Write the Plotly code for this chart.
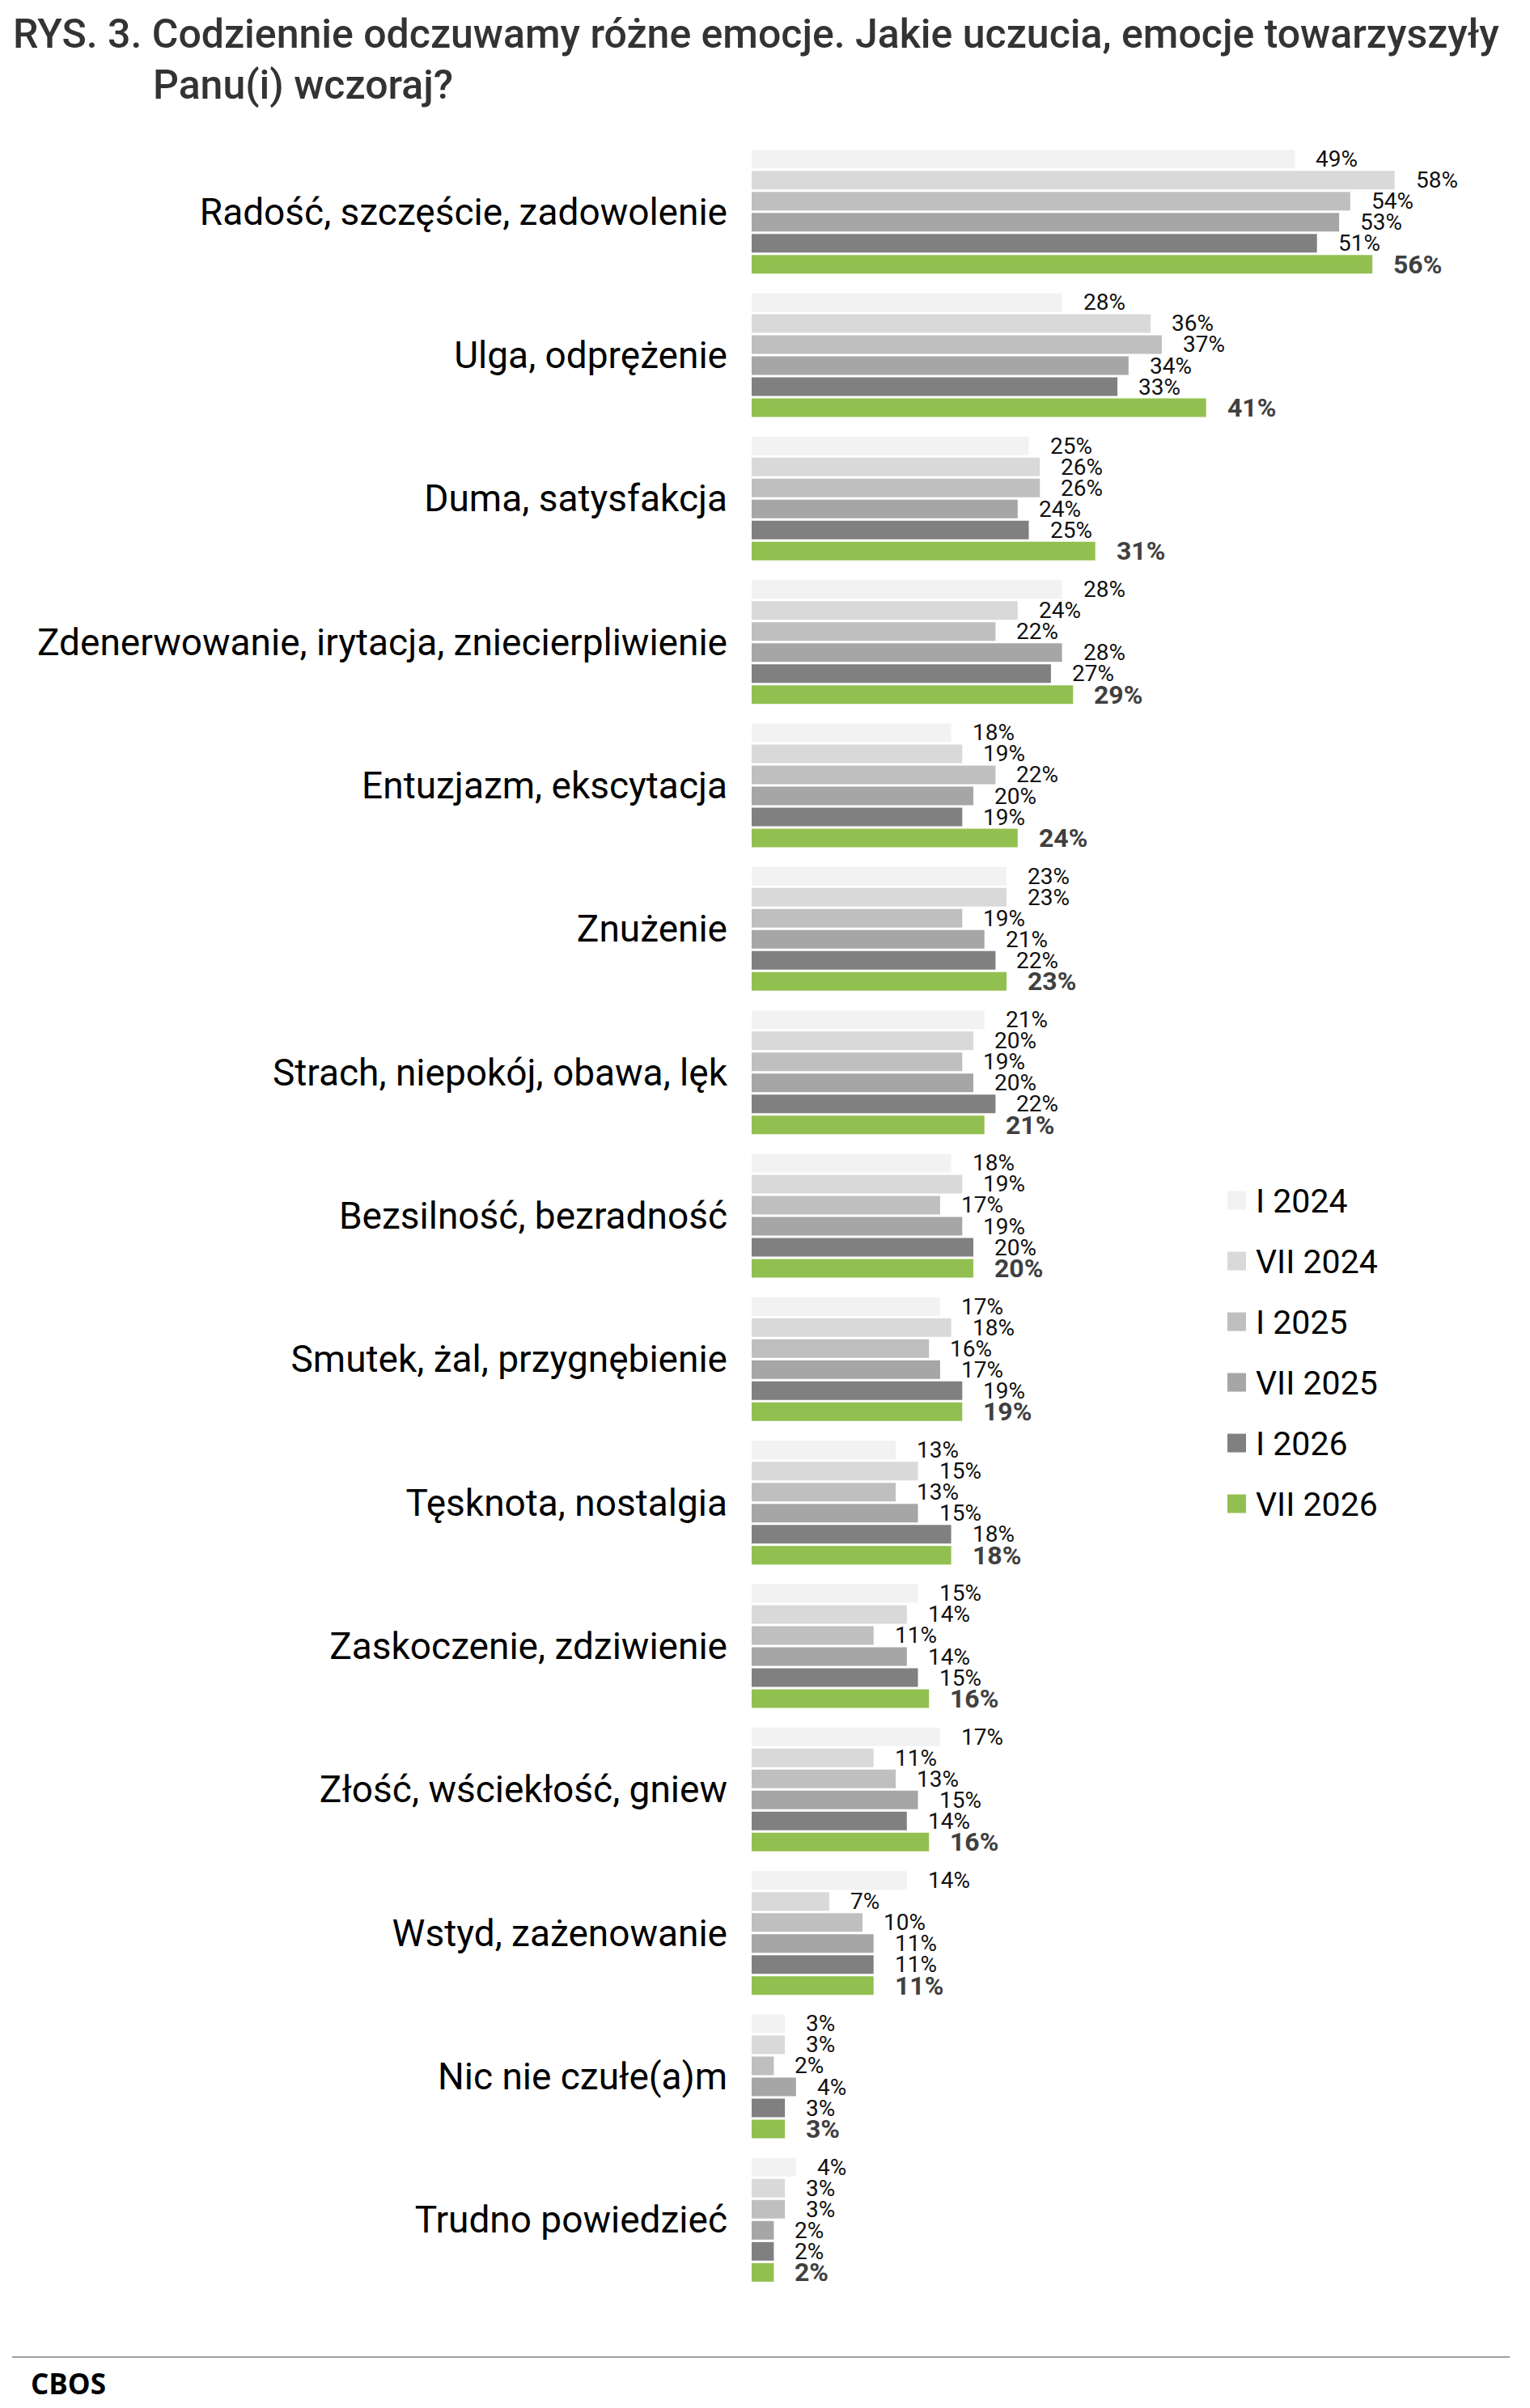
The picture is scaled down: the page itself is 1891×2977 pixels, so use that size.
import plotly.graph_objects as go

categories = [
    "Radość, szczęście, zadowolenie",
    "Ulga, odprężenie",
    "Duma, satysfakcja",
    "Zdenerwowanie, irytacja, zniecierpliwienie",
    "Entuzjazm, ekscytacja",
    "Znużenie",
    "Strach, niepokój, obawa, lęk",
    "Bezsilność, bezradność",
    "Smutek, żal, przygnębienie",
    "Tęsknota, nostalgia",
    "Zaskoczenie, zdziwienie",
    "Złość, wściekłość, gniew",
    "Wstyd, zażenowanie",
    "Nic nie czułe(a)m",
    "Trudno powiedzieć",
]

series_names = ["I 2024", "VII 2024", "I 2025", "VII 2025", "I 2026", "VII 2026"]

i_2024 = [49, 28, 25, 28, 18, 23, 21, 18, 17, 13, 15, 17, 14, 3, 4]
vii_2024 = [58, 36, 26, 24, 19, 23, 20, 19, 18, 15, 14, 11, 7, 3, 3]
i_2025 = [54, 37, 26, 22, 22, 19, 19, 17, 16, 13, 11, 13, 10, 2, 3]
vii_2025 = [53, 34, 24, 28, 20, 21, 20, 19, 17, 15, 14, 15, 11, 4, 2]
i_2026 = [51, 33, 25, 27, 19, 22, 22, 20, 19, 18, 15, 14, 11, 3, 2]
vii_2026 = [56, 41, 31, 29, 24, 23, 21, 20, 19, 18, 16, 16, 11, 3, 2]

series_values = [i_2024, vii_2024, i_2025, vii_2025, i_2026, vii_2026]
colors = ["#F2F2F2", "#D9D9D9", "#BFBFBF", "#A6A6A6", "#808080", "#92C050"]

title_line1 = "RYS. 3. Codziennie odczuwamy różne emocje. Jakie uczucia, emocje towarzyszyły"
title_line2 = "Panu(i) wczoraj?"
source_text = "CBOS"

# layout geometry (pixels)
W, H = 1891, 2977
L, R, T, B = 929, 0, 173, 144
PW, PH = W - L - R, H - T - B
BARGAP = 0.1203
BARGROUPGAP = 0.1154
PX_PER_PCT = 13.7


def px2x(px):
    return (px - L) / PW


def py2y(py):
    return (H - B - py) / PH


FONT = "Roboto"

fig = go.Figure()
for name, vals, col in zip(series_names, series_values, colors):
    fig.add_trace(go.Bar(
        y=categories, x=vals, name=name, orientation="h",
        marker=dict(color=col, line=dict(width=0)),
        showlegend=False, hoverinfo="x+name",
    ))

# data labels
cat_px = PH / len(categories)
slot_px = (1 - BARGAP) * cat_px / len(series_names)
annotations = []
n = len(series_names)
for j, (name, vals) in enumerate(zip(series_names, series_values)):
    last = j == n - 1
    for cat, v in zip(categories, vals):
        annotations.append(dict(
            x=v, y=cat, xref="x", yref="y", text=f"{v}%", showarrow=False,
            xanchor="left", yanchor="middle", xshift=24,
            yshift=-(j - (n - 1) / 2) * slot_px,
            font=dict(family=FONT, size=32 if last else 28,
                      color="#404040" if last else "#111111",
                      weight="bold" if last else "normal"),
        ))

# legend (manual)
leg_x0, leg_size, leg_y0, leg_pitch = 1517, 23, 1484, 75
shapes = []
for j, (name, col) in enumerate(zip(series_names, colors)):
    cy = leg_y0 + j * leg_pitch
    shapes.append(dict(type="rect", xref="paper", yref="paper",
                       x0=px2x(leg_x0), x1=px2x(leg_x0 + leg_size),
                       y0=py2y(cy + leg_size / 2), y1=py2y(cy - leg_size / 2),
                       fillcolor=col, line=dict(width=0)))
    annotations.append(dict(x=px2x(1550), y=py2y(cy + 1), xref="paper", yref="paper",
                            text=name, showarrow=False, xanchor="left", yanchor="middle",
                            font=dict(family=FONT, size=41, color="#000000")))

# title
annotations.append(dict(x=px2x(14), y=py2y(42), xref="paper", yref="paper",
                        text=title_line1, showarrow=False, xanchor="left", yanchor="middle",
                        font=dict(family=FONT, size=50, color="#333333", weight=500)))
annotations.append(dict(x=px2x(187), y=py2y(105), xref="paper", yref="paper",
                        text=title_line2, showarrow=False, xanchor="left", yanchor="middle",
                        font=dict(family=FONT, size=50, color="#333333", weight=500)))

# footer
shapes.append(dict(type="line", xref="paper", yref="paper",
                   x0=px2x(15), x1=px2x(1866), y0=py2y(2914), y1=py2y(2914),
                   line=dict(color="#A0A0A0", width=2)))
annotations.append(dict(x=px2x(36), y=py2y(2946), xref="paper", yref="paper",
                        text=source_text, showarrow=False, xanchor="left", yanchor="middle",
                        font=dict(family="Open Sans", size=35, color="#000000", weight="bold")))

fig.update_layout(
    width=W, height=H,
    margin=dict(l=L, r=R, t=T, b=B, pad=0),
    barmode="group", bargap=BARGAP, bargroupgap=BARGROUPGAP,
    plot_bgcolor="white", paper_bgcolor="white",
    font=dict(family=FONT, color="#000000"),
    annotations=annotations, shapes=shapes,
    showlegend=False,
)
fig.update_xaxes(range=[0, PW / PX_PER_PCT], visible=False, fixedrange=True)
fig.update_yaxes(autorange="reversed", showline=False, showgrid=False, ticks="",
                 ticklabelstandoff=29,
                 tickfont=dict(family=FONT, size=46, color="#000000"), fixedrange=True)

fig.write_html("out.html")
